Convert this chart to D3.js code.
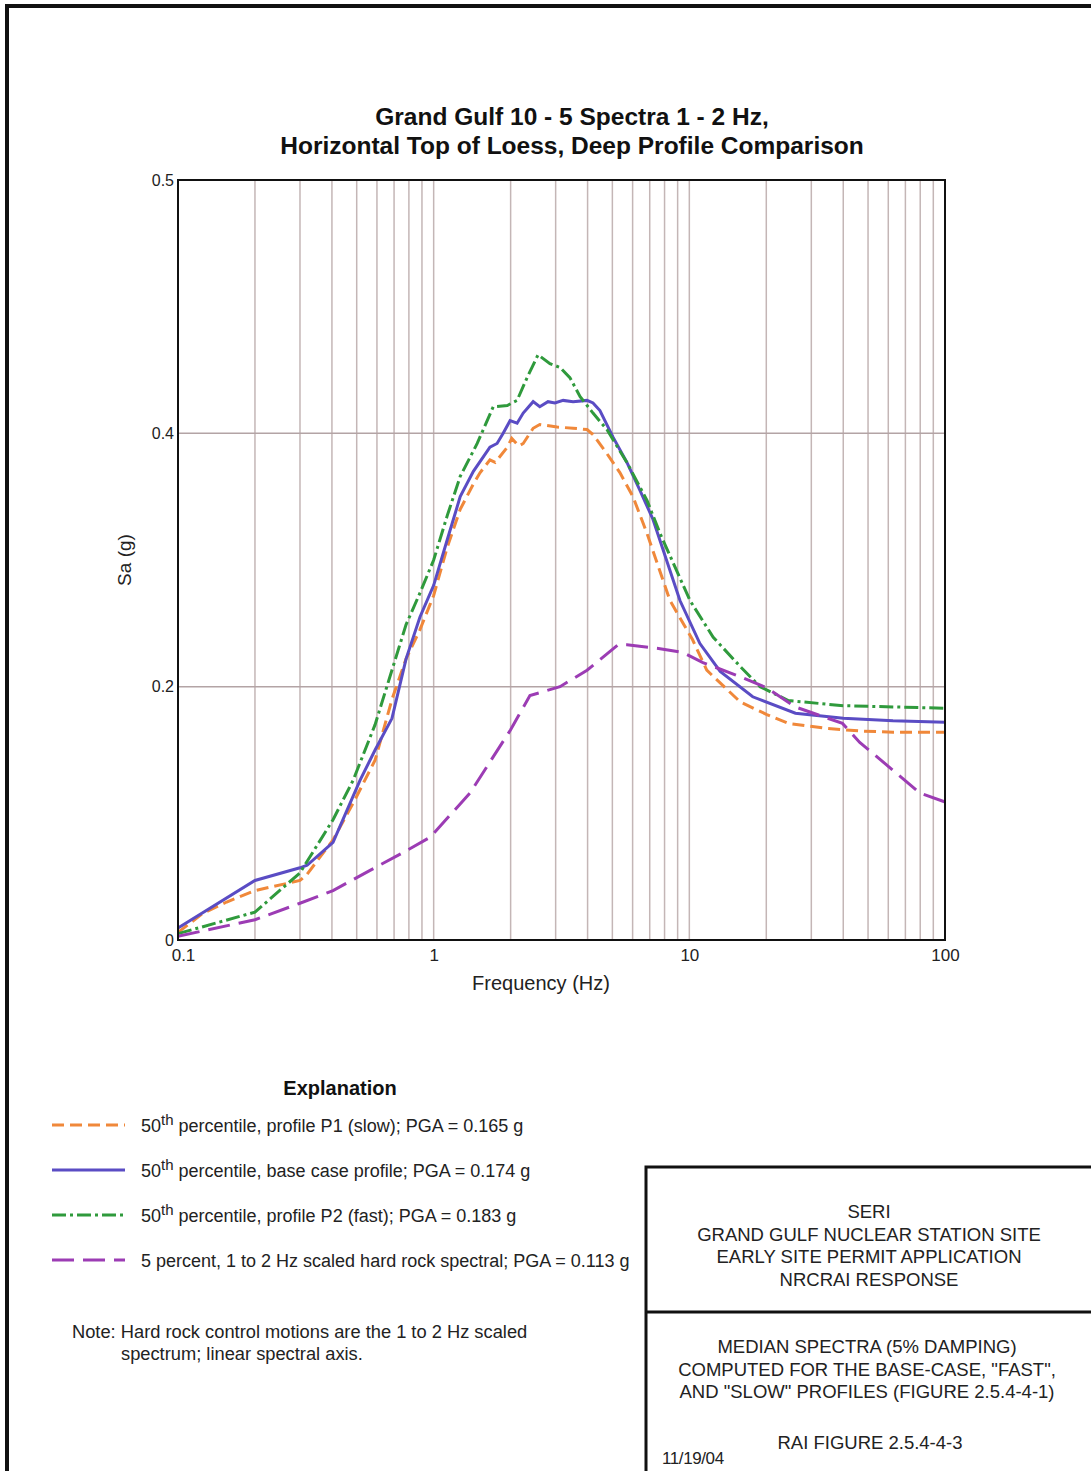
<!DOCTYPE html>
<html>
<head>
<meta charset="utf-8">
<script src="https://cdn.jsdelivr.net/npm/d3@7"></script>
<style>
  body { margin: 0; background: #fff; }
  svg { display: block; font-family: "Liberation Sans", Arial, sans-serif; }
</style>
</head>
<body>
<svg id="chart" width="1091" height="1471"></svg>
<script>
// spectra: [frequency Hz, Sa g]
const p1Slow = [[0.1,0.006],[0.125,0.021],[0.155,0.030],[0.2,0.039],[0.3,0.047],[0.32,0.052],[0.404,0.079],
  [0.49,0.11],[0.59,0.142],[0.687,0.19],[0.78,0.222],[0.884,0.245],[1.0,0.272],[1.13,0.31],[1.27,0.34],
  [1.43,0.36],[1.52,0.369],[1.66,0.379],[1.74,0.377],[1.94,0.389],[2.02,0.396],[2.15,0.39],[2.24,0.392],
  [2.45,0.404],[2.6,0.407],[3.04,0.405],[3.51,0.404],[3.98,0.403],[4.2,0.399],[4.76,0.384],[5.35,0.369],
  [6.02,0.35],[6.83,0.321],[8.4,0.268],[10.3,0.237],[11.7,0.213],[13.2,0.203],[15.8,0.188],[20.1,0.178],
  [24.4,0.171],[34.5,0.167],[46.4,0.165],[62.6,0.164],[100,0.164]];
const baseCase = [[0.1,0.0095],[0.2,0.047],[0.3,0.057],[0.32,0.059],[0.404,0.077],[0.515,0.126],[0.59,0.15],
  [0.687,0.175],[0.78,0.222],[0.884,0.255],[1.0,0.28],[1.13,0.316],[1.27,0.35],[1.43,0.37],[1.66,0.389],
  [1.77,0.392],[1.87,0.4],[1.99,0.41],[2.12,0.408],[2.24,0.416],[2.45,0.425],[2.6,0.421],[2.8,0.425],
  [2.98,0.424],[3.21,0.426],[3.51,0.425],[3.98,0.426],[4.2,0.424],[4.47,0.418],[5.03,0.397],[5.7,0.377],
  [6.41,0.355],[7.21,0.332],[9.19,0.268],[11.0,0.234],[13.2,0.212],[17.7,0.192],[26.0,0.179],[40,0.175],
  [62.6,0.173],[100,0.172]];
const p2Fast = [[0.1,0.005],[0.2,0.022],[0.3,0.053],[0.404,0.095],[0.484,0.126],[0.59,0.17],[0.78,0.249],
  [0.884,0.274],[1.0,0.3],[1.13,0.335],[1.27,0.366],[1.48,0.392],[1.71,0.421],[1.94,0.422],[2.12,0.426],
  [2.32,0.444],[2.56,0.462],[2.85,0.455],[3.12,0.452],[3.41,0.444],[3.74,0.429],[4.2,0.416],[4.76,0.403],
  [5.7,0.377],[6.83,0.347],[7.68,0.321],[10.06,0.268],[12.4,0.239],[15.8,0.216],[18.9,0.2],[24.4,0.189],
  [40,0.185],[62.6,0.184],[100,0.183]];
const hardRock = [[0.1,0.003],[0.2,0.016],[0.3,0.029],[0.404,0.039],[0.564,0.055],[0.759,0.069],[0.967,0.081],
  [1.387,0.116],[2.0,0.166],[2.38,0.193],[3.12,0.2],[3.98,0.213],[5.26,0.233],[5.7,0.233],[7.68,0.23],
  [9.44,0.227],[11.3,0.219],[15.3,0.209],[20.1,0.199],[26.0,0.184],[39.7,0.171],[46.4,0.156],[62.6,0.134],
  [79.8,0.116],[100,0.109]];

const xTickValues = [0.1, 1, 10, 100];
const xTickLabels = ["0.1", "1", "10", "100"];
const yTickValues = [0, 0.2, 0.4, 0.6];
const yTickLabels = ["0", "0.2", "0.4", "0.5"];

const seriesNames = [
  "percentile, profile P1 (slow); PGA = 0.165 g",
  "percentile, base case profile; PGA = 0.174 g",
  "percentile, profile P2 (fast); PGA = 0.183 g",
  "5 percent, 1 to 2 Hz scaled hard rock spectral; PGA = 0.113 g"
];

const series = [
  {data: p1Slow, color: "#f0883a", dash: "12,6"},
  {data: baseCase, color: "#5a4cc4", dash: null},
  {data: p2Fast, color: "#2f9a3c", dash: "14,4,3,4"},
  {data: hardRock, color: "#9c3cb4", dash: "22,9"}
];

const svg = d3.select("#chart");
const ink = "#222";

// page frame
svg.append("path").attr("d", "M7,1471V6H1091").attr("fill", "none").attr("stroke", "#111").attr("stroke-width", 4);

const plotLeft = 178, plotRight = 945, plotTop = 180, plotBottom = 940;
const x = d3.scaleLog().domain([0.1, 100]).range([plotLeft, plotRight]);
const y = d3.scaleLinear().domain([0, 0.6]).range([plotBottom, plotTop]);

// grid
const minor = [];
for (let dec = 0.1; dec < 100; dec *= 10) {
  for (let k = 1; k <= 9; k++) minor.push(+(dec * k).toPrecision(3));
}
svg.append("g").selectAll("line").data(minor.filter(d => d > 0.1)).enter().append("line")
  .attr("x1", d => x(d)).attr("x2", d => x(d)).attr("y1", plotTop).attr("y2", plotBottom)
  .attr("stroke", "#c4b6b6").attr("stroke-width", 1.5);
svg.append("g").selectAll("line").data([0.2, 0.4]).enter().append("line")
  .attr("x1", plotLeft).attr("x2", plotRight).attr("y1", d => y(d)).attr("y2", d => y(d))
  .attr("stroke", "#b3a4a5").attr("stroke-width", 1.5);

// curves
const line = d3.line().x(d => x(d[0])).y(d => y(d[1]));
series.forEach(s => {
  svg.append("path").datum(s.data).attr("d", line)
    .attr("fill", "none").attr("stroke", s.color).attr("stroke-width", 3)
    .attr("stroke-dasharray", s.dash);
});

svg.append("rect").attr("x", plotLeft).attr("y", plotTop)
  .attr("width", plotRight - plotLeft).attr("height", plotBottom - plotTop)
  .attr("fill", "none").attr("stroke", "#111").attr("stroke-width", 2);

// axes
const xAxis = d3.axisBottom(x).tickValues(xTickValues).tickSize(0).tickPadding(9)
  .tickFormat((d, i) => xTickLabels[i]);
const gx = svg.append("g").attr("transform", `translate(0,${plotBottom})`).call(xAxis);
gx.select(".domain").remove();
gx.selectAll("text").attr("font-size", 17).attr("fill", ink).attr("font-family", "Liberation Sans, Arial, sans-serif");
gx.selectAll(".tick text").filter((d, i) => i === 0).attr("dx", 5);

const yAxis = d3.axisLeft(y).tickValues(yTickValues).tickSize(0).tickPadding(4)
  .tickFormat((d, i) => yTickLabels[i]);
const gy = svg.append("g").attr("transform", `translate(${plotLeft},0)`).call(yAxis);
gy.select(".domain").remove();
gy.selectAll("text").attr("font-size", 16).attr("fill", ink).attr("font-family", "Liberation Sans, Arial, sans-serif");

svg.append("text").attr("x", 541).attr("y", 990).attr("text-anchor", "middle")
  .attr("font-size", 20).attr("fill", ink).text("Frequency (Hz)");
svg.append("text").attr("transform", "translate(131,560) rotate(-90)").attr("text-anchor", "middle")
  .attr("font-size", 19).attr("fill", ink).text("Sa (g)");

// title
svg.append("text").attr("x", 572).attr("y", 125).attr("text-anchor", "middle")
  .attr("font-size", 24.5).attr("font-weight", "bold").attr("fill", "#111")
  .text("Grand Gulf 10 - 5 Spectra 1 - 2 Hz,");
svg.append("text").attr("x", 572).attr("y", 154).attr("text-anchor", "middle")
  .attr("font-size", 24.5).attr("font-weight", "bold").attr("fill", "#111")
  .text("Horizontal Top of Loess, Deep Profile Comparison");

// legend
svg.append("text").attr("x", 340).attr("y", 1095).attr("text-anchor", "middle")
  .attr("font-size", 20).attr("font-weight", "bold").attr("fill", "#111").text("Explanation");
const legendY = [1125, 1170, 1215, 1260];
series.forEach((s, i) => {
  svg.append("line").attr("x1", 52).attr("x2", 125).attr("y1", legendY[i]).attr("y2", legendY[i])
    .attr("stroke", s.color).attr("stroke-width", 3).attr("stroke-dasharray", s.dash);
  const t = svg.append("text").attr("x", 141).attr("y", legendY[i] + 7)
    .attr("font-size", 18).attr("fill", ink);
  if (i < 3) {
    t.append("tspan").text("50");
    t.append("tspan").attr("dy", -7).attr("font-size", 15).text("th");
    t.append("tspan").attr("dy", 7).text(" " + seriesNames[i]);
  } else {
    t.text(seriesNames[i]);
  }
});

svg.append("text").attr("x", 72).attr("y", 1338).attr("font-size", 18.3).attr("fill", ink)
  .text("Note: Hard rock control motions are the 1 to 2 Hz scaled");
svg.append("text").attr("x", 121).attr("y", 1360).attr("font-size", 18.3).attr("fill", ink)
  .text("spectrum; linear spectral axis.");

// title block
svg.append("path").attr("d", "M646,1471V1167H1091M646,1312H1091")
  .attr("fill", "none").attr("stroke", "#111").attr("stroke-width", 3);
const block1 = ["SERI", "GRAND GULF NUCLEAR STATION SITE", "EARLY SITE PERMIT APPLICATION", "NRCRAI RESPONSE"];
const block2 = ["MEDIAN SPECTRA (5% DAMPING)", "COMPUTED FOR THE BASE-CASE, \"FAST\",", "AND \"SLOW\" PROFILES (FIGURE 2.5.4-4-1)"];
block1.forEach((s, i) => {
  svg.append("text").attr("x", 869).attr("y", 1218 + i * 22.5).attr("text-anchor", "middle")
    .attr("font-size", 18.5).attr("fill", ink).text(s);
});
block2.forEach((s, i) => {
  svg.append("text").attr("x", 867).attr("y", 1353 + i * 22.5).attr("text-anchor", "middle")
    .attr("font-size", 18.5).attr("fill", ink).text(s);
});
svg.append("text").attr("x", 870).attr("y", 1449).attr("text-anchor", "middle")
  .attr("font-size", 18.5).attr("fill", ink).text("RAI FIGURE 2.5.4-4-3");
svg.append("text").attr("x", 662).attr("y", 1464).attr("font-size", 17).attr("fill", ink)
  .attr("letter-spacing", -0.4).text("11/19/04");
</script>
</body>
</html>
